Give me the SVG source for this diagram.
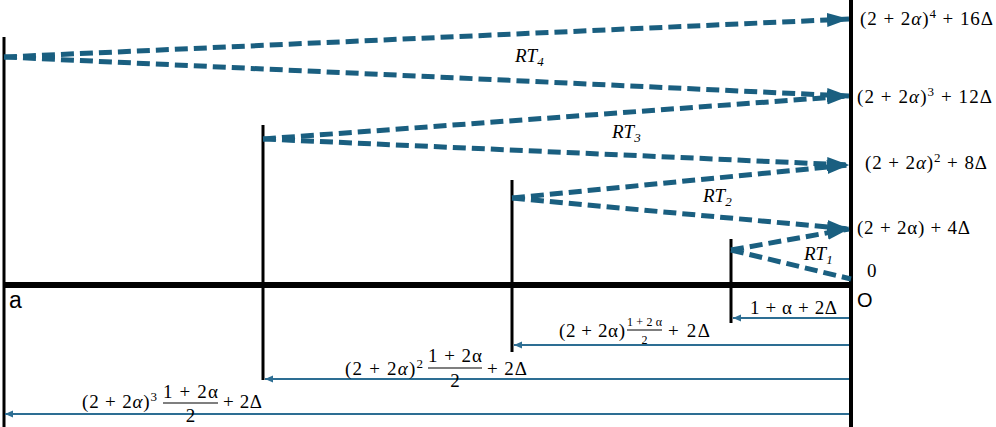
<svg xmlns="http://www.w3.org/2000/svg" width="996" height="427" viewBox="0 0 996 427">
<defs>
<marker id="ah" markerUnits="userSpaceOnUse" markerWidth="24" markerHeight="16" refX="22" refY="7" orient="auto">
<path d="M0,0 L22,7 L0,14 z" fill="#1a5f80"/>
</marker>
<marker id="dh" markerUnits="userSpaceOnUse" markerWidth="10" markerHeight="8" refX="8" refY="3.5" orient="auto">
<path d="M0,0 L8,3.5 L0,7 z" fill="#2d6e93"/>
</marker>
</defs>
<style>
.ax{stroke:#000;fill:none}
.dash{stroke:#1a5f80;stroke-width:5;stroke-dasharray:13 6;fill:none}
.dim{stroke:#2d6e93;stroke-width:2;fill:none}
.m{font-family:"Liberation Serif","DejaVu Serif",serif;font-size:19px;fill:#000}
.sm{font-family:"Liberation Serif","DejaVu Serif",serif;font-size:12px;fill:#000}
.s{font-family:"Liberation Sans",Arial,sans-serif;fill:#000}
.bar{stroke:#000;stroke-width:1.2}
</style>
<g id="axes">
<line class="ax" x1="851" y1="0" x2="851" y2="427" stroke-width="4"/>
<line class="ax" x1="3" y1="285" x2="851" y2="285" stroke-width="6"/>
<line class="ax" x1="4" y1="37" x2="4" y2="427" stroke-width="3"/>
<line class="ax" x1="263" y1="125" x2="263" y2="380" stroke-width="3"/>
<line class="ax" x1="512" y1="180" x2="512" y2="352" stroke-width="3"/>
<line class="ax" x1="731" y1="239" x2="731" y2="323" stroke-width="3"/>
<text class="s" x="9" y="308" font-size="23">a</text>
<text class="s" x="857" y="307" font-size="20">O</text>
</g>
<g id="connectors">
<line class="dash" x1="4" y1="57" x2="849" y2="19" marker-end="url(#ah)"/>
<line class="dash" x1="4" y1="57" x2="849" y2="96" marker-end="url(#ah)"/>
<line class="dash" x1="263" y1="139" x2="849" y2="96" marker-end="url(#ah)"/>
<line class="dash" x1="263" y1="139" x2="849" y2="165" marker-end="url(#ah)"/>
<line class="dash" x1="512" y1="198" x2="849" y2="165" marker-end="url(#ah)"/>
<line class="dash" x1="512" y1="198" x2="849" y2="229" marker-end="url(#ah)"/>
<line class="dash" x1="731" y1="250" x2="849" y2="229" marker-end="url(#ah)"/>
<line class="dash" x1="731" y1="250" x2="851" y2="279"/>
<line class="dim" x1="849" y1="318" x2="733" y2="318" marker-end="url(#dh)"/>
<line class="dim" x1="849" y1="345" x2="514" y2="345" marker-end="url(#dh)"/>
<line class="dim" x1="849" y1="379" x2="265" y2="379" marker-end="url(#dh)"/>
<line class="dim" x1="849" y1="414" x2="5" y2="414" marker-end="url(#dh)"/>
</g>
<g id="rt-labels">
<text class="m" x="515" y="62" font-style="italic">RT<tspan font-size="13" dy="4">4</tspan></text>
<text class="m" x="612" y="138" font-style="italic">RT<tspan font-size="13" dy="4">3</tspan></text>
<text class="m" x="703" y="202" font-style="italic">RT<tspan font-size="13" dy="4">2</tspan></text>
<text class="m" x="804" y="260" font-style="italic">RT<tspan font-size="13" dy="4">1</tspan></text>
</g>
<g id="right-labels">
<text class="m" x="860" y="25" textLength="133" lengthAdjust="spacing">(2 + 2<tspan font-style="italic">α</tspan>)<tspan font-size="13" dy="-7">4</tspan><tspan dy="7"> + 16Δ</tspan></text>
<text class="m" x="857" y="103" textLength="135" lengthAdjust="spacing">(2 + 2<tspan font-style="italic">α</tspan>)<tspan font-size="13" dy="-7">3</tspan><tspan dy="7"> + 12Δ</tspan></text>
<text class="m" x="865" y="169" textLength="122" lengthAdjust="spacing">(2 + 2<tspan font-style="italic">α</tspan>)<tspan font-size="13" dy="-7">2</tspan><tspan dy="7"> + 8Δ</tspan></text>
<text class="m" x="857" y="234" textLength="113" lengthAdjust="spacing">(2 + 2α) + 4Δ</text>
<text class="m" x="867" y="277" font-size="17">0</text>
</g>
<g id="dim-labels">
<text class="m" x="750" y="314" textLength="87" lengthAdjust="spacing">1 + α + 2Δ</text>
<text class="m" x="559" y="337" textLength="66" lengthAdjust="spacing">(2 + 2α)</text>
<text class="sm" x="627" y="326" textLength="35" lengthAdjust="spacing">1+2α</text>
<line class="bar" x1="627" y1="330" x2="662" y2="330"/>
<text class="sm" x="644.5" y="344" text-anchor="middle">2</text>
<text class="m" x="668" y="337" textLength="42" lengthAdjust="spacing">+ 2Δ</text>
<text class="m" x="345" y="375" textLength="78" lengthAdjust="spacing">(2 + 2<tspan font-style="italic">α</tspan>)<tspan font-size="13" dy="-7">2</tspan></text>
<text class="m" x="428" y="362" textLength="54" lengthAdjust="spacing">1 + 2α</text>
<line class="bar" x1="428" y1="368" x2="482" y2="368"/>
<text class="m" x="455" y="387" text-anchor="middle">2</text>
<text class="m" x="487" y="375" textLength="40" lengthAdjust="spacing">+ 2Δ</text>
<text class="m" x="82" y="408" textLength="75" lengthAdjust="spacing">(2 + 2<tspan font-style="italic">α</tspan>)<tspan font-size="13" dy="-7">3</tspan></text>
<text class="m" x="163" y="398" textLength="55" lengthAdjust="spacing">1 + 2α</text>
<line class="bar" x1="163" y1="403" x2="218" y2="403"/>
<text class="m" x="190.5" y="422" text-anchor="middle">2</text>
<text class="m" x="223" y="408" textLength="39" lengthAdjust="spacing">+ 2Δ</text>
</g>
</svg>
